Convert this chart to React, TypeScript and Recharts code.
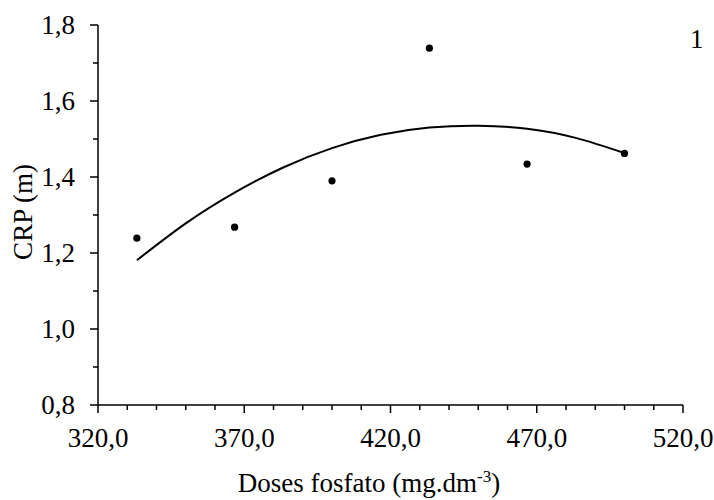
import { ComposedChart, Scatter, Line, XAxis, YAxis, Label } from 'recharts';

// observed plant height (CRP, m) per phosphate dose
const doses = [333.3, 366.7, 400.0, 433.3, 466.7, 500.0];
const crp = [1.239, 1.268, 1.39, 1.739, 1.434, 1.462];

// quadratic trend line, sampled along the dose range
const trendDoses = [333.3, 350.0, 366.7, 383.3, 400.0, 416.7, 433.3, 450.0, 466.7, 483.3, 500.0];
const trendCrp = [1.181, 1.278, 1.359, 1.425, 1.476, 1.511, 1.53, 1.535, 1.527, 1.503, 1.463];

const xTicks = [320, 330, 340, 350, 360, 370, 380, 390, 400, 410, 420, 430, 440, 450, 460, 470, 480, 490, 500, 510, 520];
const xMajor = [320, 370, 420, 470, 520];
const yTicks = [0.8, 0.9, 1.0, 1.1, 1.2, 1.3, 1.4, 1.5, 1.6, 1.7, 1.8];
const yMajor = [0.8, 1.0, 1.2, 1.4, 1.6, 1.8];

const points = doses.map((x, i) => ({ x, y: crp[i] }));
const trend = trendDoses.map((x, i) => ({ x, y: trendCrp[i] }));

const FONT = '"Liberation Serif", "Times New Roman", serif';
const FS = 27;

const fmt = (v: number) => v.toFixed(1).replace('.', ',');
const isMajor = (list: number[], v: number) => list.some((m) => Math.abs(m - v) < 1e-6);

function XTick({ x, y, payload }: any) {
  const axisY = y - 8;
  const major = isMajor(xMajor, payload.value);
  return (
    <g>
      <line x1={x} x2={x} y1={axisY} y2={axisY + (major ? 8 : 5)} stroke="#000" strokeWidth={1.5} />
      {major && (
        <text x={x} y={axisY + 42} textAnchor="middle" fontFamily={FONT} fontSize={FS} fill="#000">
          {fmt(payload.value)}
        </text>
      )}
    </g>
  );
}

function YTick({ x, y, payload }: any) {
  const axisX = x + 8;
  const major = isMajor(yMajor, payload.value);
  return (
    <g>
      <line x1={axisX - (major ? 8 : 5)} x2={axisX} y1={y} y2={y} stroke="#000" strokeWidth={1.5} />
      {major && (
        <text x={axisX - 23} y={y + 9} textAnchor="end" fontFamily={FONT} fontSize={FS} fill="#000">
          {fmt(payload.value)}
        </text>
      )}
    </g>
  );
}

const Dot = (props: any) => <circle cx={props.cx} cy={props.cy} r={3.6} fill="#000" />;

export default function App() {
  return (
    <div style={{ position: 'absolute', left: 0, top: 0, background: '#fff' }}>
      <ComposedChart width={714} height={500} margin={{ top: 25, right: 31, left: 0, bottom: 35 }}>
        <XAxis
          dataKey="x"
          type="number"
          domain={[320, 520]}
          ticks={xTicks}
          interval={0}
          height={60}
          tickSize={8}
          tickMargin={0}
          tickLine={false}
          tick={<XTick />}
          axisLine={{ stroke: '#000', strokeWidth: 1.5 }}
        >
          <Label
            content={() => (
              <text x={369} y={492} textAnchor="middle" fontFamily={FONT} fontSize={FS} fill="#000">
                Doses fosfato (mg.dm
                <tspan fontSize={17} dy={-10}>-3</tspan>
                <tspan dy={10}>)</tspan>
              </text>
            )}
          />
        </XAxis>
        <YAxis
          type="number"
          domain={[0.8, 1.8]}
          ticks={yTicks}
          interval={0}
          width={98}
          tickSize={8}
          tickMargin={0}
          tickLine={false}
          tick={<YTick />}
          axisLine={{ stroke: '#000', strokeWidth: 1.5 }}
        >
          <Label
            content={() => (
              <text
                x={32}
                y={212}
                transform="rotate(-90 32 212)"
                textAnchor="middle"
                fontFamily={FONT}
                fontSize={FS}
                fill="#000"
              >
                CRP (m)
              </text>
            )}
          />
          <Label
            content={() => (
              <text x={690} y={48} fontFamily={FONT} fontSize={FS} fill="#000">
                1
              </text>
            )}
          />
        </YAxis>
        <Line
          data={trend}
          dataKey="y"
          type="natural"
          stroke="#000"
          strokeWidth={2}
          dot={false}
          activeDot={false}
          isAnimationActive={false}
        />
        <Scatter data={points} dataKey="y" shape={Dot} isAnimationActive={false} />
      </ComposedChart>
    </div>
  );
}
